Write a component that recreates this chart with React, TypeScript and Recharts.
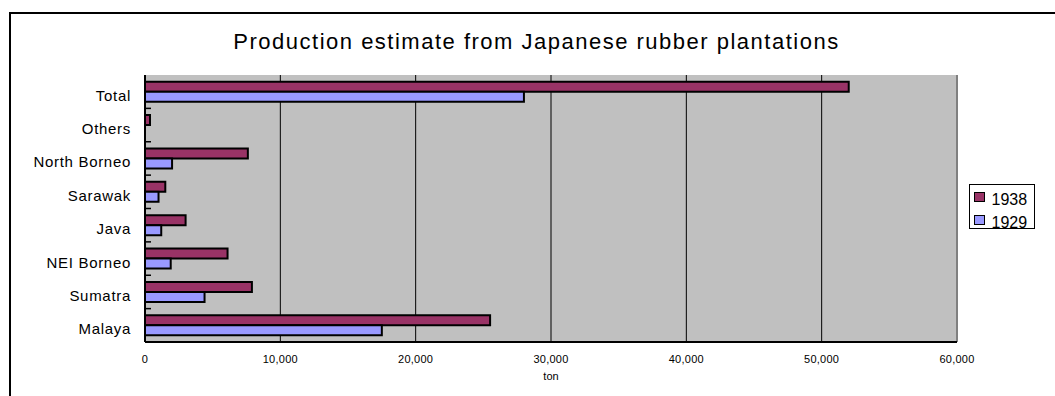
import {
  BarChart, Bar, XAxis, YAxis, CartesianGrid, ReferenceLine,
} from 'recharts';

const categories = ['Total', 'Others', 'North Borneo', 'Sarawak', 'Java', 'NEI Borneo', 'Sumatra', 'Malaya'];
const values1938 = [52000, 370, 7600, 1500, 3000, 6100, 7900, 25500];
const values1929: (number | null)[] = [28000, null, 2000, 1000, 1200, 1900, 4400, 17500];
const xTicks = [0, 10000, 20000, 30000, 40000, 50000, 60000];

const series = [
  { key: 'y1938', label: '1938', color: '#993366' },
  { key: 'y1929', label: '1929', color: '#9999FF' },
];

const data = categories.map((name, i) => ({
  name,
  y1938: values1938[i],
  y1929: values1929[i],
}));

const FONT = "Arial, 'Liberation Sans', sans-serif";
const LABEL_GAP = 14;

// category label (a bit below band centre, like Excel) + inside tick on the band boundary below it
function CatTick(props: any) {
  const { x, y, payload } = props;
  const half = payload?.offset ?? 0;
  const edge = x + LABEL_GAP;
  return (
    <g>
      <line x1={edge} x2={edge + 6} y1={y + half} y2={y + half} stroke="#000" strokeWidth={1.5} />
      <text x={x} y={y} dy={9} textAnchor="end" fill="#000" fontSize={15} letterSpacing={0.7} fontFamily={FONT}>
        {payload.value}
      </text>
    </g>
  );
}

export default function App() {
  return (
    <div style={{ position: 'absolute', left: 0, top: 0, width: 1055, height: 396, overflow: 'hidden', background: '#fff', fontFamily: FONT }}>
      {/* chart frame (right/bottom edges are off-screen) */}
      <div style={{ position: 'absolute', left: 9, top: 12, width: 1100, height: 500, borderLeft: '2px solid #000', borderTop: '2px solid #000' }} />

      <div style={{ position: 'absolute', left: 9, top: 31, width: 1055, textAlign: 'center', fontSize: 22, lineHeight: '22px', letterSpacing: 1.5, color: '#000' }}>
        Production estimate from Japanese rubber plantations
      </div>

      <div style={{ position: 'absolute', left: 0, top: 0 }}>
        <BarChart
          width={1055}
          height={396}
          data={data}
          layout="vertical"
          margin={{ top: 75, right: 98, bottom: 14, left: 0 }}
          barCategoryGap="20%"
          barGap={0}
        >
          <CartesianGrid fill="#C0C0C0" horizontal={false} stroke="#000" strokeWidth={1} />
          <XAxis
            type="number"
            domain={[0, 60000]}
            ticks={xTicks}
            interval={0}
            tickFormatter={(v: number) => v.toLocaleString('en-US')}
            tick={{ fill: '#000', fontSize: 11, fontFamily: FONT, letterSpacing: 0.25 }}
            tickLine={false}
            tickSize={0}
            tickMargin={13}
            axisLine={{ stroke: '#000', strokeWidth: 2 }}
            height={40}
            label={{ value: 'ton', position: 'insideBottom', offset: 2, fontSize: 11, fill: '#000', fontFamily: FONT }}
          />
          {/* grey plot-area border on top */}
          <XAxis
            xAxisId="top"
            orientation="top"
            type="number"
            domain={[0, 60000]}
            height={0}
            tick={false}
            tickLine={false}
            axisLine={{ stroke: '#808080', strokeWidth: 2 }}
          />
          <YAxis
            type="category"
            dataKey="name"
            width={145}
            tick={<CatTick />}
            tickLine={false}
            tickSize={0}
            tickMargin={LABEL_GAP}
            interval={0}
            axisLine={{ stroke: '#000', strokeWidth: 2 }}
          />
          <ReferenceLine x={60000} stroke="#808080" strokeWidth={2} />
          {series.map(s => (
            <Bar
              key={s.key}
              dataKey={s.key}
              name={s.label}
              fill={s.color}
              stroke="#000"
              strokeWidth={2}
              isAnimationActive={false}
            />
          ))}
        </BarChart>
      </div>

      {/* legend */}
      <div style={{ position: 'absolute', left: 969, top: 184, width: 66, height: 45, boxSizing: 'border-box', border: '1px solid #000', paddingLeft: 4, paddingTop: 3, background: '#fff' }}>
        {series.map(s => (
          <div key={s.key} style={{ display: 'flex', alignItems: 'flex-start', height: 23, lineHeight: '23px', fontSize: 16, color: '#000' }}>
            <span style={{ display: 'inline-block', width: 11, height: 10, marginTop: 4, marginRight: 6.5, boxSizing: 'border-box', border: '1.5px solid #000', background: s.color }} />
            <span>{s.label}</span>
          </div>
        ))}
      </div>
    </div>
  );
}
